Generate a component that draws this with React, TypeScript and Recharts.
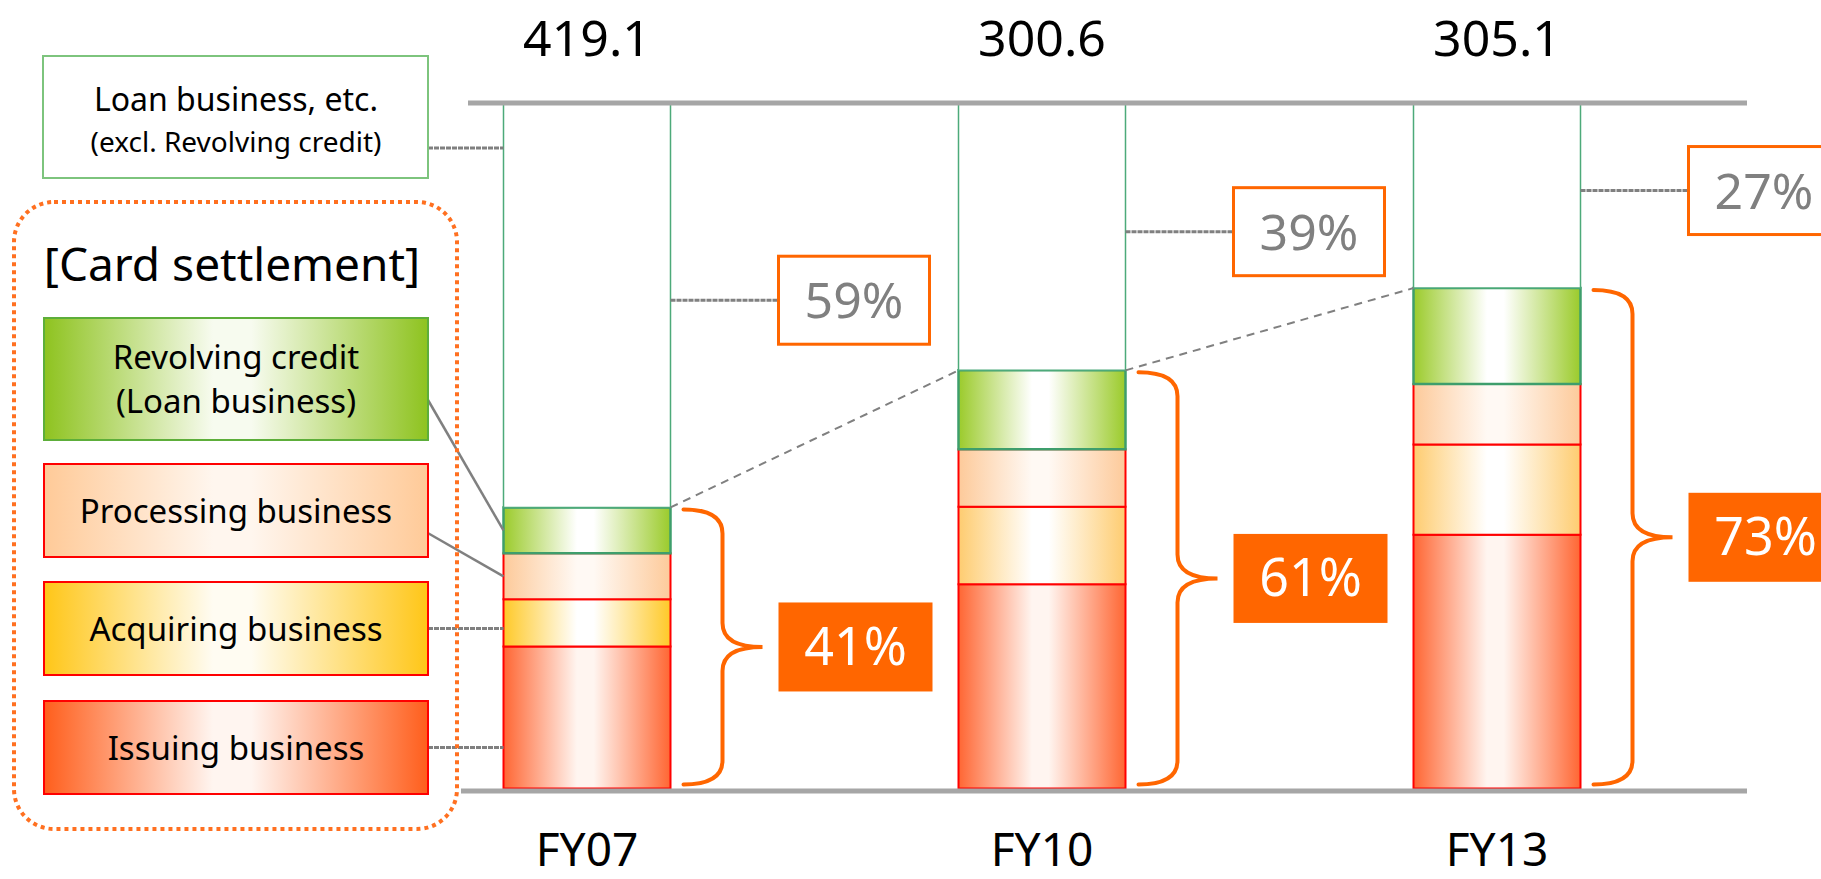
import React from "react";
import { Bar, BarChart, Cell, LabelList, XAxis, YAxis } from "recharts";

// share of total operating revenue, %, 100% stacked per fiscal year
const YEARS = ["FY07", "FY10", "FY13"];
const TOTALS = [419.1, 300.6, 305.1];
const ISSUING = [20.7, 29.8, 37.0];
const ACQUIRING = [6.9, 11.3, 13.2];
const PROCESSING = [6.7, 8.4, 8.8];
const REVOLVING = [6.7, 11.5, 14.0];
const CARD_SHARE = [41, 61, 73];
const LOAN_SHARE = [59, 39, 27];

const data = YEARS.map((year, i) => ({
  year,
  issuing: ISSUING[i],
  acquiring: ACQUIRING[i],
  processing: PROCESSING[i],
  revolving: REVOLVING[i],
  loan: LOAN_SHARE[i],
}));

const W = 1821;
const H = 879;
const MARGIN = { top: 103, right: 96.5, bottom: 0, left: 359.5 };
const AXIS_H = 90.5;
const BAND = (W - MARGIN.left - MARGIN.right) / YEARS.length;
const FONT = "'Noto Sans', 'DejaVu Sans', sans-serif";

const ORANGE = "#FF6600";
const LINE_GRAY = "#A6A6A6";
const LINK_GRAY = "#808080";
const LEGEND_RIGHT = 428;

const rectOf = (p: any) => {
  const vb = p.viewBox && p.viewBox.width != null ? p.viewBox : p;
  const idx = YEARS.indexOf(p.value);
  return {
    x: Number(vb.x),
    y: Number(vb.y),
    w: Number(vb.width),
    h: Number(vb.height),
    i: idx >= 0 ? idx : Number(p.index ?? 0),
  };
};

const Link = ({ x1, y1, x2, y2, dotted }: any) => (
  <line
    x1={x1}
    y1={y1}
    x2={x2}
    y2={y2}
    stroke={LINK_GRAY}
    strokeWidth={dotted ? 3 : 2.5}
    strokeDasharray={dotted ? "5 1" : undefined}
  />
);

const LoanLabel = (p: any) => {
  const { x, y, w, h, i } = rectOf(p);
  const right = x + w;
  const midY = y + h / 2 - 5;
  const bx = right + 108;
  return (
    <g>
      {i === 0 && <line x1={468} x2={1747} y1={y} y2={y} stroke={LINE_GRAY} strokeWidth={5} />}
      {i === 0 && <Link x1={LEGEND_RIGHT} y1={148} x2={x} y2={148} dotted />}
      <text x={x + w / 2} y={y - 47} textAnchor="middle" fontSize={50} fill="#000" fontFamily={FONT}>
        {TOTALS[i].toFixed(1)}
      </text>
      <Link x1={right} y1={midY} x2={bx} y2={midY} dotted />
      <rect x={bx} y={midY - 44} width={151} height={88} fill="#fff" stroke={ORANGE} strokeWidth={3} />
      <text x={bx + 75.5} y={midY + 18} textAnchor="middle" fontSize={50} fill="#808080" fontFamily={FONT}>
        {LOAN_SHARE[i]}%
      </text>
    </g>
  );
};

const RevolvingLabel = (p: any) => {
  const { x, y, w, h, i } = rectOf(p);
  const unit = h / REVOLVING[i];
  const base = y + unit * CARD_SHARE[i];
  const right = x + w;
  const y0 = y + 2;
  const y1 = base - 4;
  const ym = (y0 + y1) / 2;
  const ex = right + 13;
  const sx = right + 52;
  const px = right + 92;
  const ry = 24;
  const brace = `M${ex},${y0} Q${sx},${y0} ${sx},${y0 + ry} L${sx},${ym - ry} Q${sx},${ym} ${px},${ym} Q${sx},${ym} ${sx},${ym + ry} L${sx},${y1 - ry} Q${sx},${y1} ${ex},${y1}`;
  const bx = right + 108;
  const next = i + 1 < YEARS.length ? base - unit * CARD_SHARE[i + 1] : null;
  return (
    <g>
      {i === 0 && <Link x1={LEGEND_RIGHT} y1={400} x2={x} y2={y + h / 2} />}
      {next !== null && (
        <line x1={right} y1={y} x2={x + BAND} y2={next} stroke={LINK_GRAY} strokeWidth={2} strokeDasharray="8 6" />
      )}
      <path d={brace} fill="none" stroke={ORANGE} strokeWidth={4} strokeLinecap="round" />
      <rect x={bx} y={ym - 44.5} width={154} height={89} fill={ORANGE} />
      <text x={bx + 77} y={ym + 18} textAnchor="middle" fontSize={52} fill="#fff" fontFamily={FONT}>
        {CARD_SHARE[i]}%
      </text>
    </g>
  );
};

const ProcessingLabel = (p: any) => {
  const { x, y, h, i } = rectOf(p);
  if (i !== 0) return null;
  return <Link x1={426} y1={532} x2={x} y2={y + h / 2} />;
};

const AcquiringLabel = (p: any) => {
  const { x, i } = rectOf(p);
  if (i !== 0) return null;
  return <Link x1={LEGEND_RIGHT} y1={628.5} x2={x} y2={628.5} dotted />;
};

const IssuingLabel = (p: any) => {
  const { x, y, h, i } = rectOf(p);
  if (i !== 0) return null;
  return (
    <g>
      <Link x1={LEGEND_RIGHT} y1={747.5} x2={x} y2={747.5} dotted />
      <line x1={461} x2={1747} y1={y + h + 2.5} y2={y + h + 2.5} stroke={LINE_GRAY} strokeWidth={5} />
    </g>
  );
};

const Grad = ({ id, edge, mid }: { id: string; edge: string; mid: string }) => (
  <linearGradient id={id} x1="0" y1="0" x2="1" y2="0">
    <stop offset="0" stopColor={edge} />
    <stop offset="0.44" stopColor={mid} />
    <stop offset="0.54" stopColor={mid} />
    <stop offset="1" stopColor={edge} />
  </linearGradient>
);

const LegendBox = ({ y, h, fill, stroke, lines }: any) => (
  <g>
    <rect x={44} y={y} width={384} height={h} fill={fill} stroke={stroke} strokeWidth={2} />
    {lines.map((t: string, k: number) => (
      <text
        key={k}
        x={236}
        y={y + h / 2 + 12 + (k - (lines.length - 1) / 2) * 44}
        textAnchor="middle"
        fontSize={33}
        fill="#000"
      >
        {t}
      </text>
    ))}
  </g>
);

export default function App() {
  return (
    <div style={{ position: "relative", width: W, height: H, overflow: "hidden", background: "#fff" }}>
      <style>{"body{margin:0}"}</style>
      <BarChart width={W} height={H} data={data} margin={MARGIN} barSize={167}>
        <defs>
          <Grad id="gIssue" edge="#FF6633" mid="#FFF5F0" />
          <Grad id="gAcq07" edge="#FFC928" mid="#FFFFFF" />
          <Grad id="gAcq" edge="#FECC70" mid="#FFFFFF" />
          <Grad id="gProc" edge="#FDCA9A" mid="#FFF9F4" />
          <Grad id="gRev" edge="#9BCB2B" mid="#FFFFFF" />
        </defs>
        <XAxis
          dataKey="year"
          height={AXIS_H}
          axisLine={false}
          tickLine={false}
          tickMargin={39}
          interval={0}
          tick={{ fontSize: 46, fill: "#000", fontFamily: FONT }}
        />
        <YAxis hide domain={[0, 100]} />
        <Bar dataKey="issuing" stackId="s" fill="url(#gIssue)" stroke="#FF0000" strokeWidth={2} isAnimationActive={false}>
          <LabelList dataKey="year" content={IssuingLabel} />
        </Bar>
        <Bar dataKey="acquiring" stackId="s" stroke="#FF0000" strokeWidth={2} isAnimationActive={false}>
          {YEARS.map((y, k) => (
            <Cell key={y} fill={k === 0 ? "url(#gAcq07)" : "url(#gAcq)"} />
          ))}
          <LabelList dataKey="year" content={AcquiringLabel} />
        </Bar>
        <Bar dataKey="processing" stackId="s" fill="url(#gProc)" stroke="#FF0000" strokeWidth={2} isAnimationActive={false}>
          <LabelList dataKey="year" content={ProcessingLabel} />
        </Bar>
        <Bar dataKey="revolving" stackId="s" fill="url(#gRev)" stroke="#3E9E6C" strokeWidth={2.5} isAnimationActive={false}>
          <LabelList dataKey="year" content={RevolvingLabel} />
        </Bar>
        <Bar dataKey="loan" stackId="s" fill="#FFFFFF" stroke="#4DAA7A" strokeWidth={1.5} isAnimationActive={false}>
          <LabelList dataKey="year" content={LoanLabel} />
        </Bar>
      </BarChart>

      <svg
        width={W}
        height={H}
        style={{ position: "absolute", left: 0, top: 0, pointerEvents: "none" }}
        fontFamily={FONT}
      >
        <defs>
          <Grad id="lRev" edge="#8EC31F" mid="#F7FBEF" />
          <Grad id="lProc" edge="#FFCA98" mid="#FFF6EE" />
          <Grad id="lAcq" edge="#FFC617" mid="#FFFCF2" />
          <Grad id="lIssue" edge="#FF5E1C" mid="#FFF5F0" />
        </defs>
        <rect x={43} y={56} width={385} height={122} fill="#fff" stroke="#7DC47D" strokeWidth={2} />
        <text x={236} y={111} textAnchor="middle" fontSize={32} fill="#000">
          Loan business, etc.
        </text>
        <text x={236} y={152} textAnchor="middle" fontSize={28} fill="#000">
          (excl. Revolving credit)
        </text>

        <rect
          x={14}
          y={202}
          width={443}
          height={627}
          rx={40}
          fill="none"
          stroke="#FF7020"
          strokeWidth={4}
          strokeDasharray="4 4"
        />
        <text x={232} y={281} textAnchor="middle" fontSize={46} fill="#000">
          [Card settlement]
        </text>
        <LegendBox y={318} h={122} fill="url(#lRev)" stroke="#5DAE3A" lines={["Revolving credit", "(Loan business)"]} />
        <LegendBox y={464} h={93} fill="url(#lProc)" stroke="#FF0000" lines={["Processing business"]} />
        <LegendBox y={582} h={93} fill="url(#lAcq)" stroke="#FF0000" lines={["Acquiring business"]} />
        <LegendBox y={701} h={93} fill="url(#lIssue)" stroke="#FF0000" lines={["Issuing business"]} />
      </svg>
    </div>
  );
}
